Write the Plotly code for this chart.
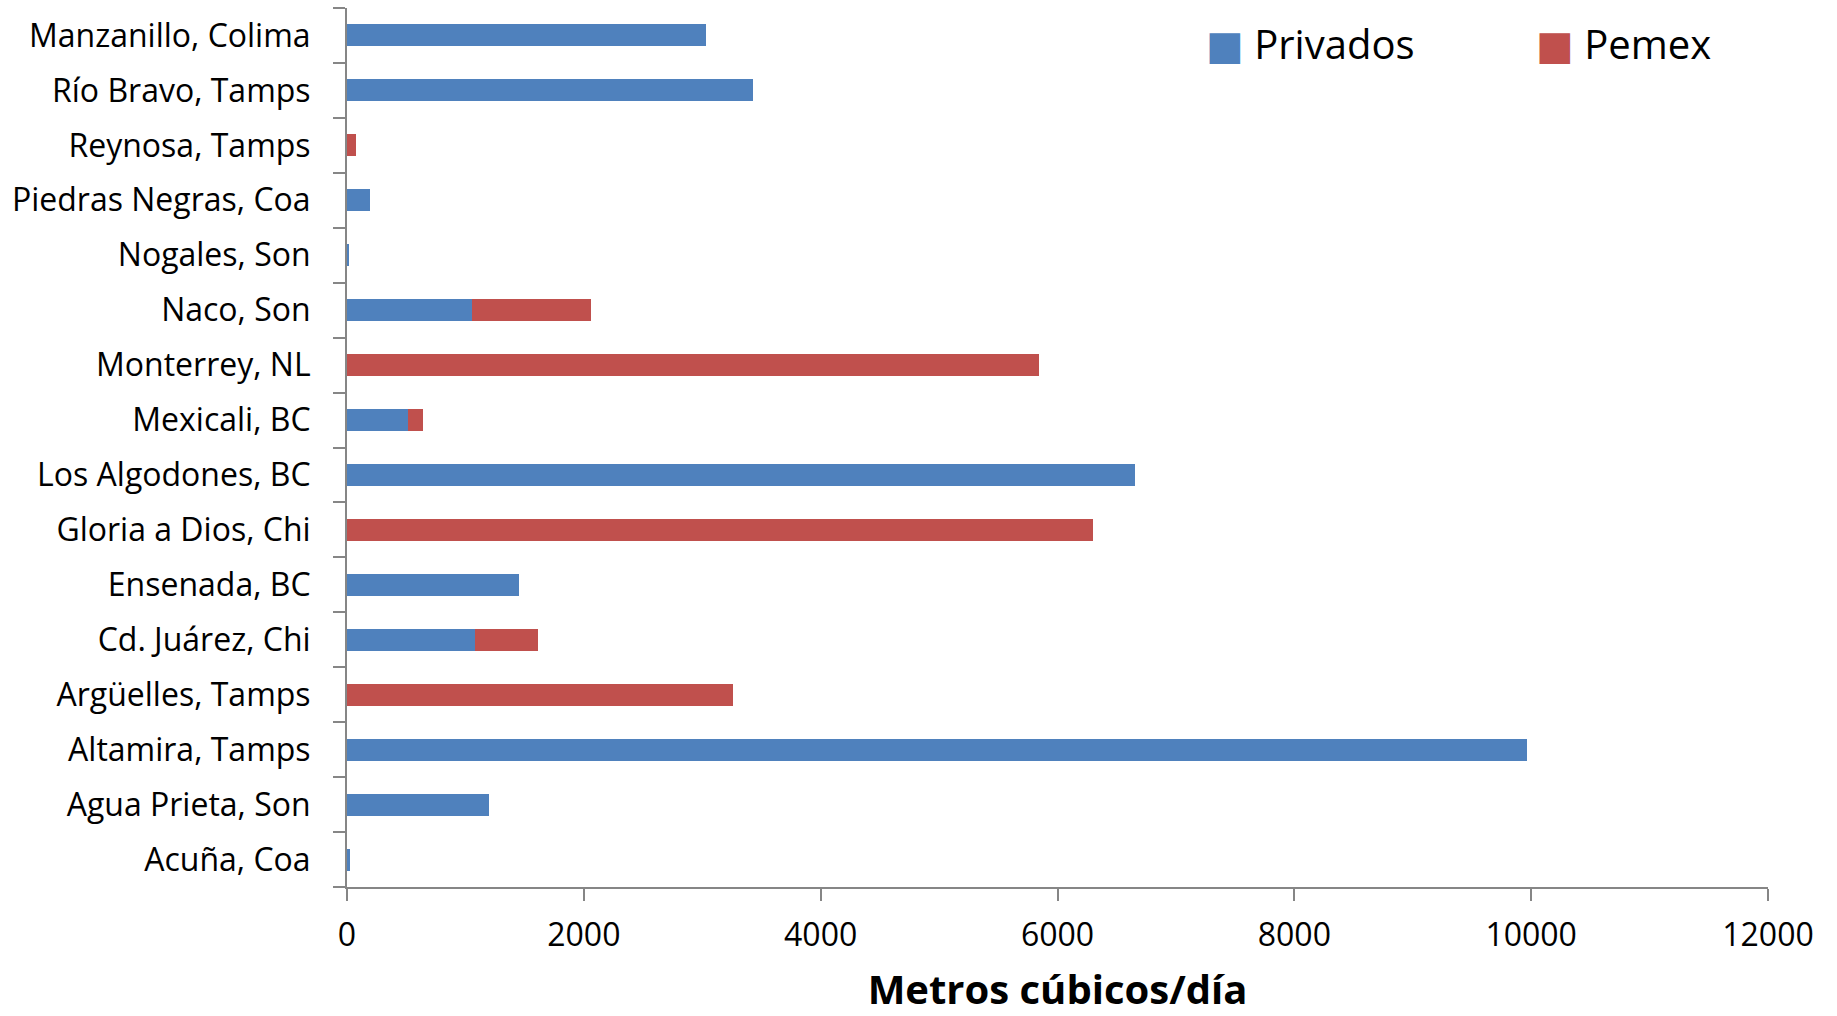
import plotly.graph_objects as go

categories = [
    "Acuña, Coa", "Agua Prieta, Son", "Altamira, Tamps", "Argüelles, Tamps",
    "Cd. Juárez, Chi", "Ensenada, BC", "Gloria a Dios, Chi", "Los Algodones, BC",
    "Mexicali, BC", "Monterrey, NL", "Naco, Son", "Nogales, Son",
    "Piedras Negras, Coa", "Reynosa, Tamps", "Río Bravo, Tamps", "Manzanillo, Colima",
]
privados = [25, 1196, 9964, 0, 1077, 1453, 0, 6653, 514, 0, 1058, 20, 190, 0, 3430, 3035]
pemex = [0, 0, 0, 3262, 534, 0, 6297, 0, 130, 5842, 1000, 0, 0, 80, 0, 0]
x_ticks = [0, 2000, 4000, 6000, 8000, 10000, 12000]

BLUE = "#4F81BD"
RED = "#C0504D"
AXIS = "#868686"
FONT = "Open Sans"

fig = go.Figure()
fig.add_trace(go.Bar(y=categories, x=privados, orientation="h", name="Privados",
                     marker=dict(color=BLUE, line=dict(width=0))))
fig.add_trace(go.Bar(y=categories, x=pemex, orientation="h", name="Pemex",
                     marker=dict(color=RED, line=dict(width=0))))

fig.update_layout(
    width=1837, height=1016,
    barmode="stack", bargap=0.6,
    showlegend=False,
    paper_bgcolor="white", plot_bgcolor="white",
    margin=dict(l=347, r=69, t=8, b=129),
    font=dict(family=FONT, color="black", size=32),
)
fig.update_xaxes(
    range=[0, 12000], tickvals=x_ticks, ticktext=[str(v) for v in x_ticks],
    automargin=False,
    showgrid=False, zeroline=False,
    showline=True, linecolor=AXIS, linewidth=2,
    ticks="outside", ticklen=12, tickwidth=2, tickcolor=AXIS,
    tickfont=dict(size=32, family=FONT, color="black"),
    ticklabelstandoff=7,
    title=dict(text="<b>Metros cúbicos/día</b>", font=dict(size=40, family=FONT, color="black"), standoff=31),
)
fig.update_yaxes(
    type="category", categoryorder="array", categoryarray=categories,
    automargin=False,
    showgrid=False, zeroline=False,
    showline=True, linecolor=AXIS, linewidth=2,
    ticks="outside", ticklen=12, tickwidth=2, tickcolor=AXIS, tickson="boundaries",
    tickfont=dict(size=32, family=FONT, color="black"),
    ticklabelstandoff=28,
)

legend_items = [("Privados", BLUE, 0.603), ("Pemex", RED, 0.835)]
for name, color, xpos in legend_items:
    fig.add_annotation(
        xref="paper", yref="paper", x=xpos, y=0.960, xanchor="left", yanchor="middle",
        showarrow=False,
        text=f"<span style='color:{color};font-family:DejaVu Sans;font-size:40px'>■</span> {name}",
        font=dict(size=40, family=FONT, color="black"),
    )

fig.write_html("out.html", config={"displayModeBar": False},
               post_script="document.body.style.margin='0';")
